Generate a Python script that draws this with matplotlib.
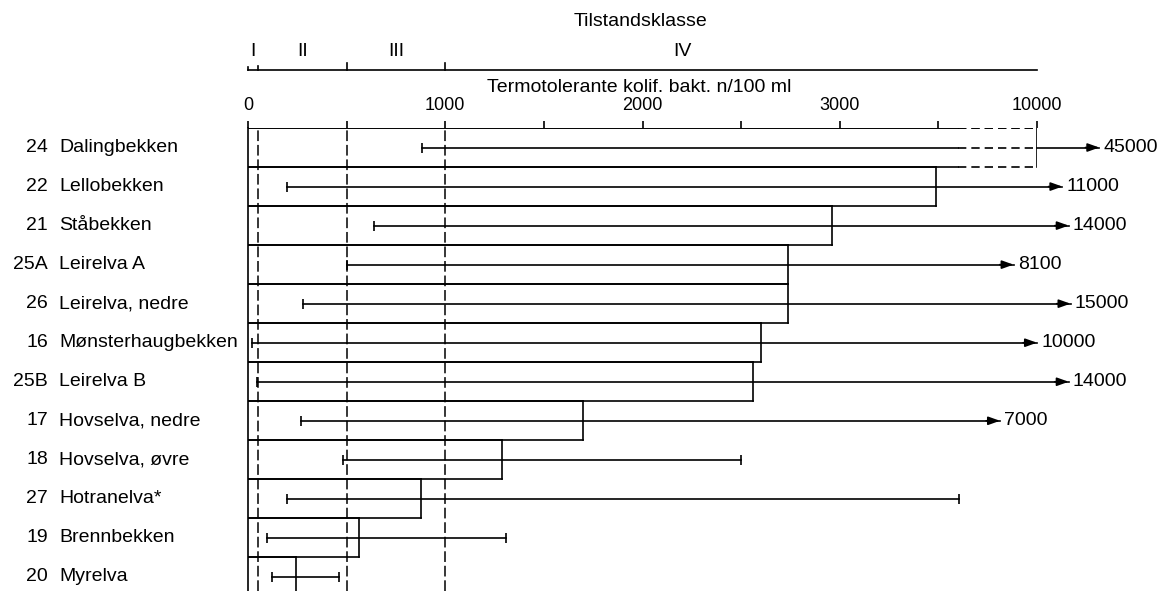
import numpy as np
import matplotlib.pyplot as plt
from matplotlib.transforms import blended_transform_factory

plt.rcParams['font.family'] = ['Liberation Sans', 'DejaVu Sans']

# stations, top to bottom
station_no = ["24", "22", "21", "25A", "26", "16", "25B", "17", "18", "27", "19", "20"]
station_name = ["Dalingbekken", "Lellobekken", "Ståbekken", "Leirelva A",
                "Leirelva, nedre", "Mønsterhaugbekken", "Leirelva B",
                "Hovselva, nedre", "Hovselva, øvre", "Hotranelva*",
                "Brennbekken", "Myrelva"]
bar_value = [10000, 3490, 2960, 2740, 2740, 2600, 2560, 1700, 1290, 875, 565, 245]
range_min = [880, 200, 640, 500, 280, 20, 45, 270, 480, 200, 95, 120]
range_max = [45000, 11000, 14000, 8100, 15000, 10000, 14000, 7000, 2500, 3640, 1310, 460]

class_names = ["I", "II", "III", "IV"]
class_limits = [0, 50, 500, 1000, 10000]
class_label_x = [25, 275, 750, 2200]
class_tick_px = [3, 4, 7, 7]

major_ticks = [0, 1000, 2000, 3000, 10000]
minor_ticks = [500, 1500, 2500, 3500]

brk = 3600        # axis is linear up to here, then broken
top = 10000       # last tick of the axis
arrow_from = 5000  # maxima above this get an arrow + label
over0 = 4116      # where the overflow zone starts (display units)
fs = 14


def forward(v):
    v = np.asarray(v, dtype=float)
    with np.errstate(all="ignore"):
        mid = brk + (v - brk) / 16
        over = over0 + 306 * np.log10(np.maximum(v, 1) / top)
    return np.where(v <= brk, v, np.where(v <= top, mid, over))


def inverse(d):
    d = np.asarray(d, dtype=float)
    with np.errstate(all="ignore"):
        mid = brk + (d - brk) * 16
        over = top * 10 ** ((d - over0) / 306)
    return np.where(d <= brk, d,
                    np.where(d <= 4000, mid, np.where(d < over0, top, over)))


W, H = 1168, 591
fig = plt.figure(figsize=(W / 100, H / 100), dpi=100)
ax = fig.add_axes([248 / W, 0, (1037 - 248) / W, (591 - 128) / H])
ax.set_xscale("function", functions=(forward, inverse))
n = len(station_name)
ax.set_xlim(0, top)
ax.set_ylim(n - 0.64, -0.5)

lw = 1.2
dash = (0, (5, 3))
for s in ["top", "right", "bottom"]:
    ax.spines[s].set_visible(False)
ax.spines["left"].set_linewidth(lw)

ax.xaxis.tick_top()
ax.set_xticks(major_ticks)
ax.set_xticklabels([str(t) for t in major_ticks])
ax.set_xticks(minor_ticks, minor=True)
ax.tick_params(axis="x", which="both", direction="out", length=5, width=lw,
               pad=5, labelsize=13)
ax.set_yticks([])

# top axis line, broken after brk
ax.plot([0, brk], [-0.5, -0.5], color="k", lw=lw)
ax.plot([brk, top], [-0.5, -0.5], color="k", lw=lw, ls=dash)

# class limits as dashed verticals
for x in class_limits[1:4]:
    ax.axvline(x, color="k", lw=1.1, ls=(0, (7, 2.5)))

# bars (outlined, stacked edge to edge)
for i, v in enumerate(bar_value):
    for y in (i - 0.5, i + 0.5):
        ax.plot([0, min(v, brk)], [y, y], color="k", lw=lw)
        if v > brk:
            ax.plot([brk, v], [y, y], color="k", lw=lw, ls=dash)
    ax.plot([v, v], [i - 0.5, i + 0.5], color="k", lw=lw)

# min-max ranges
for i, (lo, hi, v) in enumerate(zip(range_min, range_max, bar_value)):
    if v > brk and hi > brk:
        ax.plot([lo, brk], [i, i], color="k", lw=lw, clip_on=False)
        ax.plot([brk, min(hi, v)], [i, i], color="k", lw=lw, ls=dash, clip_on=False)
        if hi > v:
            ax.plot([v, hi], [i, i], color="k", lw=lw, clip_on=False)
    else:
        ax.plot([lo, hi], [i, i], color="k", lw=lw, clip_on=False)
    ax.plot([lo], [i], marker="|", ms=7, mew=lw, color="k", clip_on=False)
    if hi > arrow_from:
        ax.annotate("", xy=(hi, i), xytext=(-10, 0), textcoords="offset points",
                    annotation_clip=False,
                    arrowprops=dict(arrowstyle="-|>,head_length=0.7,head_width=0.25",
                                    color="k", lw=lw, shrinkA=0, shrinkB=0))
        ax.annotate(str(hi), xy=(hi, i), xytext=(3, 0), textcoords="offset points",
                    ha="left", va="center", fontsize=fs, annotation_clip=False)
    else:
        ax.plot([hi], [i], marker="|", ms=7, mew=lw, color="k", clip_on=False)

# station labels
tr = blended_transform_factory(fig.transFigure, ax.transData)
for i, (no, name) in enumerate(zip(station_no, station_name)):
    ax.text(48 / W, i, no, ha="right", va="center", fontsize=fs, transform=tr)
    ax.text(59 / W, i, name, ha="left", va="center", fontsize=fs, transform=tr)

# class axis above
xt = ax.get_xaxis_transform()
ax_h = 591 - 128
y_cls = 1 + (128 - 70) / ax_h
ax.plot([0, top], [y_cls, y_cls], color="k", lw=lw, transform=xt, clip_on=False)
for x, t in zip(class_limits[:4], class_tick_px):
    ax.plot([x, x], [y_cls, y_cls + t / ax_h], color="k", lw=lw,
            transform=xt, clip_on=False)
for x, name in zip(class_label_x, class_names):
    ax.text(x, 1 + (128 - 51) / ax_h, name, ha="center", va="center",
            fontsize=fs, transform=xt)

fig.text(640 / W, 1 - 21 / H, "Tilstandsklasse", ha="center", va="center", fontsize=fs)
fig.text(639 / W, 1 - 87 / H, "Termotolerante kolif. bakt. n/100 ml",
         ha="center", va="center", fontsize=fs)

ax.set_xlim(0, top)
ax.set_ylim(n - 0.64, -0.5)
fig.savefig("out.png", dpi=100)
